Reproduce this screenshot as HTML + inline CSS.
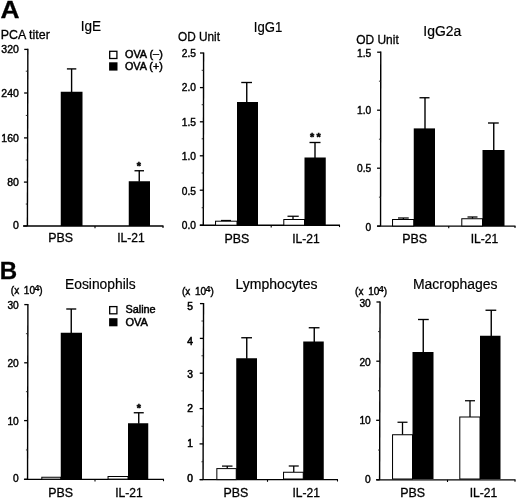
<!DOCTYPE html>
<html><head><meta charset="utf-8"><title>Figure</title>
<style>
html,body{margin:0;padding:0;background:#fff;}
body{width:520px;height:499px;overflow:hidden;}
svg{display:block;font-family:'Liberation Sans', Arial, Helvetica, sans-serif;}
</style></head><body>
<svg width="520" height="499" viewBox="0 0 520 499">
<defs><filter id="soft" x="0" y="0" width="520" height="499" filterUnits="userSpaceOnUse"><feGaussianBlur stdDeviation="0.4"/></filter></defs>
<rect x="0" y="0" width="520" height="499" fill="#fff"/>
<g filter="url(#soft)">
<text x="0.6" y="18.3" font-size="24.3" text-anchor="start" font-weight="bold" fill="#000" stroke="#000" stroke-width="0.3" textLength="19" lengthAdjust="spacingAndGlyphs">A</text>
<text x="-0.2" y="279.3" font-size="24" text-anchor="start" font-weight="bold" fill="#000" stroke="#000" stroke-width="0.3" textLength="17.4" lengthAdjust="spacingAndGlyphs">B</text>
<text x="0.8" y="39" font-size="12" text-anchor="start" font-weight="normal" fill="#000" stroke="#000" stroke-width="0.3" textLength="49" lengthAdjust="spacingAndGlyphs">PCA titer</text>
<text x="80.8" y="31.3" font-size="14" text-anchor="start" font-weight="normal" fill="#000" stroke="#000" stroke-width="0.2" textLength="20.3" lengthAdjust="spacingAndGlyphs">IgE</text>
<line x1="27.849999999999998" y1="48.8" x2="27.4" y2="226" stroke="#000" stroke-width="1.4"/>
<line x1="24.249999999999996" y1="49.4" x2="27.849999999999998" y2="49.4" stroke="#000" stroke-width="1.3"/>
<text x="18.9" y="53.449999999999996" font-size="10" text-anchor="end" font-weight="normal" fill="#000" stroke="#000" stroke-width="0.4" textLength="17.52" lengthAdjust="spacingAndGlyphs">320</text>
<line x1="24.137499999999996" y1="93" x2="27.737499999999997" y2="93" stroke="#000" stroke-width="1.3"/>
<text x="18.9" y="96.64999999999999" font-size="10" text-anchor="end" font-weight="normal" fill="#000" stroke="#000" stroke-width="0.4" textLength="17.52" lengthAdjust="spacingAndGlyphs">240</text>
<line x1="24.025" y1="137.9" x2="27.625" y2="137.9" stroke="#000" stroke-width="1.3"/>
<text x="18.9" y="141.95000000000002" font-size="10" text-anchor="end" font-weight="normal" fill="#000" stroke="#000" stroke-width="0.4" textLength="17.52" lengthAdjust="spacingAndGlyphs">160</text>
<line x1="23.912499999999998" y1="182.1" x2="27.5125" y2="182.1" stroke="#000" stroke-width="1.3"/>
<text x="18.9" y="185.65" font-size="10" text-anchor="end" font-weight="normal" fill="#000" stroke="#000" stroke-width="0.4" textLength="11.68" lengthAdjust="spacingAndGlyphs">80</text>
<line x1="23.799999999999997" y1="226" x2="27.4" y2="226" stroke="#000" stroke-width="1.3"/>
<text x="18.9" y="229.25" font-size="10" text-anchor="end" font-weight="normal" fill="#000" stroke="#000" stroke-width="0.4" textLength="5.84" lengthAdjust="spacingAndGlyphs">0</text>
<line x1="25.799999999999997" y1="71.2" x2="27.4" y2="71.2" stroke="#222" stroke-width="0.9"/>
<line x1="25.799999999999997" y1="115.45" x2="27.4" y2="115.45" stroke="#222" stroke-width="0.9"/>
<line x1="25.799999999999997" y1="160.0" x2="27.4" y2="160.0" stroke="#222" stroke-width="0.9"/>
<line x1="25.799999999999997" y1="204.05" x2="27.4" y2="204.05" stroke="#222" stroke-width="0.9"/>
<line x1="23" y1="226" x2="163.5" y2="226" stroke="#000" stroke-width="1.35"/>
<line x1="95" y1="226" x2="95" y2="228.2" stroke="#000" stroke-width="1.1"/>
<line x1="163.0" y1="226" x2="163.0" y2="227.9" stroke="#000" stroke-width="1.1"/>
<rect x="60.75" y="91.75" width="21.75" height="134.25" fill="#000"/>
<line x1="71.6" y1="68.9" x2="71.6" y2="92.25" stroke="#000" stroke-width="1.4"/>
<line x1="66.9" y1="68.9" x2="76.3" y2="68.9" stroke="#000" stroke-width="1.35"/>
<rect x="128.75" y="181.25" width="21.25" height="44.75" fill="#000"/>
<line x1="139.25" y1="170.75" x2="139.25" y2="181.75" stroke="#000" stroke-width="1.4"/>
<line x1="134.5" y1="170.75" x2="144" y2="170.75" stroke="#000" stroke-width="1.35"/>
<text x="138.9" y="169.9" font-size="10.8" text-anchor="middle" font-weight="bold" fill="#000" stroke="#000" stroke-width="0.5">*</text>
<text x="60.6" y="242" font-size="12" text-anchor="middle" font-weight="normal" fill="#000" stroke="#000" stroke-width="0.3" textLength="24.8" lengthAdjust="spacingAndGlyphs">PBS</text>
<text x="131" y="242" font-size="12" text-anchor="middle" font-weight="normal" fill="#000" stroke="#000" stroke-width="0.3" textLength="27.5" lengthAdjust="spacingAndGlyphs">IL-21</text>
<rect x="109.7" y="51.3" width="7.2" height="7.2" fill="#fff" stroke="#000" stroke-width="1.3"/>
<rect x="109.1" y="62.3" width="8.4" height="8.3" fill="#000"/>
<text x="125" y="57.8" font-size="10" text-anchor="start" font-weight="normal" fill="#000" stroke="#000" stroke-width="0.45" textLength="37.8" lengthAdjust="spacingAndGlyphs">OVA (<tspan dy="-1">–</tspan><tspan dy="1">)</tspan></text>
<text x="125" y="70.2" font-size="10" text-anchor="start" font-weight="normal" fill="#000" stroke="#000" stroke-width="0.45" textLength="37.8" lengthAdjust="spacingAndGlyphs">OVA (+)</text>
<text x="178" y="41.4" font-size="12" text-anchor="start" font-weight="normal" fill="#000" stroke="#000" stroke-width="0.3" textLength="42" lengthAdjust="spacingAndGlyphs">OD Unit</text>
<text x="253.75" y="31.75" font-size="14" text-anchor="start" font-weight="normal" fill="#000" stroke="#000" stroke-width="0.2" textLength="28.5" lengthAdjust="spacingAndGlyphs">IgG1</text>
<line x1="203.60000000000002" y1="52.4" x2="203.3" y2="225.2" stroke="#000" stroke-width="1.4"/>
<line x1="200.00000000000003" y1="53" x2="203.60000000000002" y2="53" stroke="#000" stroke-width="1.3"/>
<text x="196" y="56.65" font-size="10" text-anchor="end" font-weight="normal" fill="#000" stroke="#000" stroke-width="0.4" textLength="14.18" lengthAdjust="spacingAndGlyphs">2.5</text>
<line x1="199.94000000000003" y1="87.6" x2="203.54000000000002" y2="87.6" stroke="#000" stroke-width="1.3"/>
<text x="196" y="91.35" font-size="10" text-anchor="end" font-weight="normal" fill="#000" stroke="#000" stroke-width="0.4" textLength="14.18" lengthAdjust="spacingAndGlyphs">2.0</text>
<line x1="199.88000000000002" y1="121.8" x2="203.48000000000002" y2="121.8" stroke="#000" stroke-width="1.3"/>
<text x="196" y="125.75" font-size="10" text-anchor="end" font-weight="normal" fill="#000" stroke="#000" stroke-width="0.4" textLength="14.18" lengthAdjust="spacingAndGlyphs">1.5</text>
<line x1="199.82000000000002" y1="155.8" x2="203.42000000000002" y2="155.8" stroke="#000" stroke-width="1.3"/>
<text x="196" y="159.95000000000002" font-size="10" text-anchor="end" font-weight="normal" fill="#000" stroke="#000" stroke-width="0.4" textLength="14.18" lengthAdjust="spacingAndGlyphs">1.0</text>
<line x1="199.76000000000002" y1="190.2" x2="203.36" y2="190.2" stroke="#000" stroke-width="1.3"/>
<text x="196" y="194.75" font-size="10" text-anchor="end" font-weight="normal" fill="#000" stroke="#000" stroke-width="0.4" textLength="14.18" lengthAdjust="spacingAndGlyphs">0.5</text>
<line x1="199.70000000000002" y1="225.2" x2="203.3" y2="225.2" stroke="#000" stroke-width="1.3"/>
<text x="196" y="229.15" font-size="10" text-anchor="end" font-weight="normal" fill="#000" stroke="#000" stroke-width="0.4" textLength="14.18" lengthAdjust="spacingAndGlyphs">0.0</text>
<line x1="201.70000000000002" y1="70.3" x2="203.3" y2="70.3" stroke="#222" stroke-width="0.9"/>
<line x1="201.70000000000002" y1="104.69999999999999" x2="203.3" y2="104.69999999999999" stroke="#222" stroke-width="0.9"/>
<line x1="201.70000000000002" y1="138.8" x2="203.3" y2="138.8" stroke="#222" stroke-width="0.9"/>
<line x1="201.70000000000002" y1="173.0" x2="203.3" y2="173.0" stroke="#222" stroke-width="0.9"/>
<line x1="201.70000000000002" y1="207.7" x2="203.3" y2="207.7" stroke="#222" stroke-width="0.9"/>
<line x1="200" y1="225.2" x2="340" y2="225.2" stroke="#000" stroke-width="1.35"/>
<line x1="271.2" y1="225.2" x2="271.2" y2="227.39999999999998" stroke="#000" stroke-width="1.1"/>
<line x1="339.5" y1="225.2" x2="339.5" y2="227.1" stroke="#000" stroke-width="1.1"/>
<line x1="226.0" y1="220.5" x2="226.0" y2="221.2" stroke="#000" stroke-width="1.3"/>
<line x1="221" y1="220.5" x2="231" y2="220.5" stroke="#000" stroke-width="1.25"/>
<rect x="215.55" y="221.2" width="21.45" height="4.0" fill="#fff" stroke="#000" stroke-width="1.0"/>
<rect x="237" y="102" width="21" height="123.2" fill="#000"/>
<line x1="246.75" y1="82.5" x2="246.75" y2="102.5" stroke="#000" stroke-width="1.4"/>
<line x1="241.25" y1="82.5" x2="252" y2="82.5" stroke="#000" stroke-width="1.35"/>
<line x1="293" y1="216.25" x2="293" y2="219.5" stroke="#000" stroke-width="1.3"/>
<line x1="287.5" y1="216.25" x2="298.75" y2="216.25" stroke="#000" stroke-width="1.25"/>
<rect x="283.8" y="219.5" width="20.7" height="5.7" fill="#fff" stroke="#000" stroke-width="1.0"/>
<rect x="304.5" y="157.5" width="21.25" height="67.7" fill="#000"/>
<line x1="315" y1="142.5" x2="315" y2="158.0" stroke="#000" stroke-width="1.4"/>
<line x1="309.5" y1="142.5" x2="320.5" y2="142.5" stroke="#000" stroke-width="1.35"/>
<text x="312" y="140.7" font-size="10.8" text-anchor="middle" font-weight="bold" fill="#000" stroke="#000" stroke-width="0.5">*</text>
<text x="318.7" y="140.7" font-size="10.8" text-anchor="middle" font-weight="bold" fill="#000" stroke="#000" stroke-width="0.5">*</text>
<text x="236.9" y="242.5" font-size="12" text-anchor="middle" font-weight="normal" fill="#000" stroke="#000" stroke-width="0.3" textLength="24.8" lengthAdjust="spacingAndGlyphs">PBS</text>
<text x="305.9" y="242.5" font-size="12" text-anchor="middle" font-weight="normal" fill="#000" stroke="#000" stroke-width="0.3" textLength="27.5" lengthAdjust="spacingAndGlyphs">IL-21</text>
<text x="356.25" y="43.75" font-size="12" text-anchor="start" font-weight="normal" fill="#000" stroke="#000" stroke-width="0.3" textLength="42.5" lengthAdjust="spacingAndGlyphs">OD Unit</text>
<text x="423.25" y="35.75" font-size="14" text-anchor="start" font-weight="normal" fill="#000" stroke="#000" stroke-width="0.2" textLength="38" lengthAdjust="spacingAndGlyphs">IgG2a</text>
<line x1="380.75" y1="51.6" x2="380.55" y2="226.1" stroke="#000" stroke-width="1.4"/>
<line x1="377.15" y1="52.2" x2="380.75" y2="52.2" stroke="#000" stroke-width="1.3"/>
<text x="371.2" y="56.65" font-size="10" text-anchor="end" font-weight="normal" fill="#000" stroke="#000" stroke-width="0.4" textLength="14.18" lengthAdjust="spacingAndGlyphs">1.5</text>
<line x1="377.0833333333333" y1="110.2" x2="380.68333333333334" y2="110.2" stroke="#000" stroke-width="1.3"/>
<text x="371.2" y="114.45" font-size="10" text-anchor="end" font-weight="normal" fill="#000" stroke="#000" stroke-width="0.4" textLength="14.18" lengthAdjust="spacingAndGlyphs">1.0</text>
<line x1="377.01666666666665" y1="168.2" x2="380.6166666666667" y2="168.2" stroke="#000" stroke-width="1.3"/>
<text x="371.2" y="172.45000000000002" font-size="10" text-anchor="end" font-weight="normal" fill="#000" stroke="#000" stroke-width="0.4" textLength="14.18" lengthAdjust="spacingAndGlyphs">0.5</text>
<line x1="376.95" y1="226.1" x2="380.55" y2="226.1" stroke="#000" stroke-width="1.3"/>
<text x="371.2" y="231.05" font-size="10" text-anchor="end" font-weight="normal" fill="#000" stroke="#000" stroke-width="0.4" textLength="5.67" lengthAdjust="spacingAndGlyphs">0</text>
<line x1="378.95" y1="81.2" x2="380.55" y2="81.2" stroke="#222" stroke-width="0.9"/>
<line x1="378.95" y1="139.2" x2="380.55" y2="139.2" stroke="#222" stroke-width="0.9"/>
<line x1="378.95" y1="197.14999999999998" x2="380.55" y2="197.14999999999998" stroke="#222" stroke-width="0.9"/>
<line x1="377.2" y1="226.1" x2="515.5" y2="226.1" stroke="#000" stroke-width="1.35"/>
<line x1="448.75" y1="226.1" x2="448.75" y2="228.29999999999998" stroke="#000" stroke-width="1.1"/>
<line x1="515.0" y1="226.1" x2="515.0" y2="228.0" stroke="#000" stroke-width="1.1"/>
<line x1="403.375" y1="218" x2="403.375" y2="219.5" stroke="#000" stroke-width="1.3"/>
<line x1="398" y1="218" x2="408.75" y2="218" stroke="#000" stroke-width="1.25"/>
<rect x="392.55" y="219.5" width="21.2" height="6.5" fill="#fff" stroke="#000" stroke-width="1.0"/>
<rect x="413.75" y="128.4" width="21.25" height="97.6" fill="#000"/>
<line x1="425" y1="97.75" x2="425" y2="128.9" stroke="#000" stroke-width="1.4"/>
<line x1="419.5" y1="97.75" x2="429.5" y2="97.75" stroke="#000" stroke-width="1.35"/>
<line x1="472.5" y1="217" x2="472.5" y2="218.75" stroke="#000" stroke-width="1.3"/>
<line x1="467.5" y1="217" x2="477.5" y2="217" stroke="#000" stroke-width="1.25"/>
<rect x="461.8" y="218.75" width="20.7" height="7.25" fill="#fff" stroke="#000" stroke-width="1.0"/>
<rect x="482.5" y="150" width="22.0" height="76" fill="#000"/>
<line x1="493.75" y1="123" x2="493.75" y2="150.5" stroke="#000" stroke-width="1.4"/>
<line x1="488" y1="123" x2="498.75" y2="123" stroke="#000" stroke-width="1.35"/>
<text x="414.6" y="242.5" font-size="12" text-anchor="middle" font-weight="normal" fill="#000" stroke="#000" stroke-width="0.3" textLength="24.8" lengthAdjust="spacingAndGlyphs">PBS</text>
<text x="484.4" y="242.5" font-size="12" text-anchor="middle" font-weight="normal" fill="#000" stroke="#000" stroke-width="0.3" textLength="27.5" lengthAdjust="spacingAndGlyphs">IL-21</text>
<text x="10.8" y="294" font-size="10" fill="#000" stroke="#000" stroke-width="0.4">(x<tspan dx="4.7">10</tspan><tspan font-size="9.5" font-weight="bold" dy="-3" dx="-0.8" stroke-width="0.1">4</tspan><tspan dy="3" dx="-0.1">)</tspan></text>
<text x="65" y="288.5" font-size="14" text-anchor="start" font-weight="normal" fill="#000" stroke="#000" stroke-width="0.2" textLength="70.75" lengthAdjust="spacingAndGlyphs">Eosinophils</text>
<line x1="27.900000000000002" y1="304.0" x2="27.55" y2="479.3" stroke="#000" stroke-width="1.4"/>
<line x1="24.3" y1="304.6" x2="27.900000000000002" y2="304.6" stroke="#000" stroke-width="1.3"/>
<text x="18.75" y="309.05" font-size="10" text-anchor="end" font-weight="normal" fill="#000" stroke="#000" stroke-width="0.4" textLength="11.34" lengthAdjust="spacingAndGlyphs">30</text>
<line x1="24.183333333333334" y1="362.8" x2="27.783333333333335" y2="362.8" stroke="#000" stroke-width="1.3"/>
<text x="18.75" y="366.85" font-size="10" text-anchor="end" font-weight="normal" fill="#000" stroke="#000" stroke-width="0.4" textLength="11.34" lengthAdjust="spacingAndGlyphs">20</text>
<line x1="24.066666666666666" y1="420.6" x2="27.666666666666668" y2="420.6" stroke="#000" stroke-width="1.3"/>
<text x="18.75" y="424.55" font-size="10" text-anchor="end" font-weight="normal" fill="#000" stroke="#000" stroke-width="0.4" textLength="11.34" lengthAdjust="spacingAndGlyphs">10</text>
<line x1="23.95" y1="479.3" x2="27.55" y2="479.3" stroke="#000" stroke-width="1.3"/>
<text x="18.75" y="482.15000000000003" font-size="10" text-anchor="end" font-weight="normal" fill="#000" stroke="#000" stroke-width="0.4" textLength="5.67" lengthAdjust="spacingAndGlyphs">0</text>
<line x1="25.95" y1="333.70000000000005" x2="27.55" y2="333.70000000000005" stroke="#222" stroke-width="0.9"/>
<line x1="25.95" y1="391.70000000000005" x2="27.55" y2="391.70000000000005" stroke="#222" stroke-width="0.9"/>
<line x1="25.95" y1="449.95000000000005" x2="27.55" y2="449.95000000000005" stroke="#222" stroke-width="0.9"/>
<line x1="24.3" y1="479.3" x2="164" y2="479.3" stroke="#000" stroke-width="1.35"/>
<line x1="95" y1="479.3" x2="95" y2="481.5" stroke="#000" stroke-width="1.1"/>
<line x1="163.5" y1="479.3" x2="163.5" y2="481.2" stroke="#000" stroke-width="1.1"/>
<rect x="41.8" y="477.25" width="18.95" height="1.85" fill="#fff" stroke="#000" stroke-width="1.0"/>
<rect x="60.75" y="332.75" width="21.25" height="146.35" fill="#000"/>
<line x1="71.25" y1="309" x2="71.25" y2="333.25" stroke="#000" stroke-width="1.4"/>
<line x1="66.25" y1="309" x2="76.25" y2="309" stroke="#000" stroke-width="1.35"/>
<rect x="108.05" y="476.5" width="19.95" height="2.6" fill="#fff" stroke="#000" stroke-width="1.0"/>
<rect x="128" y="423.25" width="20.25" height="55.85" fill="#000"/>
<line x1="138.75" y1="412.75" x2="138.75" y2="423.75" stroke="#000" stroke-width="1.4"/>
<line x1="133.75" y1="412.75" x2="143.75" y2="412.75" stroke="#000" stroke-width="1.35"/>
<text x="138.75" y="411.6" font-size="10.8" text-anchor="middle" font-weight="bold" fill="#000" stroke="#000" stroke-width="0.5">*</text>
<rect x="109.7" y="306.6" width="7.2" height="7.2" fill="#fff" stroke="#000" stroke-width="1.3"/>
<rect x="109.1" y="318.2" width="8.4" height="8.1" fill="#000"/>
<text x="125.4" y="313" font-size="10" text-anchor="start" font-weight="normal" fill="#000" stroke="#000" stroke-width="0.45" textLength="30.3" lengthAdjust="spacingAndGlyphs">Saline</text>
<text x="125.4" y="325.6" font-size="10" text-anchor="start" font-weight="normal" fill="#000" stroke="#000" stroke-width="0.45" textLength="22.5" lengthAdjust="spacingAndGlyphs">OVA</text>
<text x="60.6" y="496.5" font-size="12" text-anchor="middle" font-weight="normal" fill="#000" stroke="#000" stroke-width="0.3" textLength="24.8" lengthAdjust="spacingAndGlyphs">PBS</text>
<text x="128.9" y="496.5" font-size="12" text-anchor="middle" font-weight="normal" fill="#000" stroke="#000" stroke-width="0.3" textLength="27.5" lengthAdjust="spacingAndGlyphs">IL-21</text>
<text x="182" y="295.1" font-size="10" fill="#000" stroke="#000" stroke-width="0.4">(x<tspan dx="4.7">10</tspan><tspan font-size="9.5" font-weight="bold" dy="-3" dx="-0.8" stroke-width="0.1">4</tspan><tspan dy="3" dx="-0.1">)</tspan></text>
<text x="235.5" y="289" font-size="14" text-anchor="start" font-weight="normal" fill="#000" stroke="#000" stroke-width="0.2" textLength="82" lengthAdjust="spacingAndGlyphs">Lymphocytes</text>
<line x1="203.55" y1="303.0" x2="203.05" y2="479.6" stroke="#000" stroke-width="1.4"/>
<line x1="199.95000000000002" y1="303.6" x2="203.55" y2="303.6" stroke="#000" stroke-width="1.3"/>
<text x="193" y="309.55" font-size="10" text-anchor="end" font-weight="normal" fill="#000" stroke="#000" stroke-width="0.55" textLength="5.67" lengthAdjust="spacingAndGlyphs">5</text>
<line x1="199.85000000000002" y1="338.4" x2="203.45000000000002" y2="338.4" stroke="#000" stroke-width="1.3"/>
<text x="193" y="344.55" font-size="10" text-anchor="end" font-weight="normal" fill="#000" stroke="#000" stroke-width="0.55" textLength="5.67" lengthAdjust="spacingAndGlyphs">4</text>
<line x1="199.75000000000003" y1="373.2" x2="203.35000000000002" y2="373.2" stroke="#000" stroke-width="1.3"/>
<text x="193" y="377.95" font-size="10" text-anchor="end" font-weight="normal" fill="#000" stroke="#000" stroke-width="0.55" textLength="5.67" lengthAdjust="spacingAndGlyphs">3</text>
<line x1="199.65" y1="408.6" x2="203.25" y2="408.6" stroke="#000" stroke-width="1.3"/>
<text x="193" y="412.15000000000003" font-size="10" text-anchor="end" font-weight="normal" fill="#000" stroke="#000" stroke-width="0.55" textLength="5.67" lengthAdjust="spacingAndGlyphs">2</text>
<line x1="199.55" y1="443.9" x2="203.15" y2="443.9" stroke="#000" stroke-width="1.3"/>
<text x="193" y="447.35" font-size="10" text-anchor="end" font-weight="normal" fill="#000" stroke="#000" stroke-width="0.55" textLength="5.67" lengthAdjust="spacingAndGlyphs">1</text>
<line x1="199.45000000000002" y1="479.6" x2="203.05" y2="479.6" stroke="#000" stroke-width="1.3"/>
<text x="193" y="481.65000000000003" font-size="10" text-anchor="end" font-weight="normal" fill="#000" stroke="#000" stroke-width="0.55" textLength="5.67" lengthAdjust="spacingAndGlyphs">0</text>
<line x1="201.45000000000002" y1="321.0" x2="203.05" y2="321.0" stroke="#222" stroke-width="0.9"/>
<line x1="201.45000000000002" y1="355.79999999999995" x2="203.05" y2="355.79999999999995" stroke="#222" stroke-width="0.9"/>
<line x1="201.45000000000002" y1="390.9" x2="203.05" y2="390.9" stroke="#222" stroke-width="0.9"/>
<line x1="201.45000000000002" y1="426.25" x2="203.05" y2="426.25" stroke="#222" stroke-width="0.9"/>
<line x1="201.45000000000002" y1="461.75" x2="203.05" y2="461.75" stroke="#222" stroke-width="0.9"/>
<line x1="200" y1="479.6" x2="338" y2="479.6" stroke="#000" stroke-width="1.35"/>
<line x1="267.5" y1="479.6" x2="267.5" y2="481.8" stroke="#000" stroke-width="1.1"/>
<line x1="337.5" y1="479.6" x2="337.5" y2="481.5" stroke="#000" stroke-width="1.1"/>
<line x1="227.25" y1="466.1" x2="227.25" y2="468.6" stroke="#000" stroke-width="1.3"/>
<line x1="222" y1="466.1" x2="232.5" y2="466.1" stroke="#000" stroke-width="1.25"/>
<rect x="216.85000000000002" y="468.6" width="19.4" height="11.0" fill="#fff" stroke="#000" stroke-width="1.0"/>
<rect x="236.25" y="358.25" width="20.75" height="120.75" fill="#000"/>
<line x1="246.75" y1="337.75" x2="246.75" y2="358.75" stroke="#000" stroke-width="1.4"/>
<line x1="241.25" y1="337.75" x2="252" y2="337.75" stroke="#000" stroke-width="1.35"/>
<line x1="293.75" y1="466" x2="293.75" y2="472.25" stroke="#000" stroke-width="1.3"/>
<line x1="288.75" y1="466" x2="298.75" y2="466" stroke="#000" stroke-width="1.25"/>
<rect x="283.55" y="472.25" width="19.7" height="6.75" fill="#fff" stroke="#000" stroke-width="1.0"/>
<rect x="303.25" y="341.5" width="20.5" height="137.5" fill="#000"/>
<line x1="314.25" y1="327.75" x2="314.25" y2="342.0" stroke="#000" stroke-width="1.4"/>
<line x1="308.75" y1="327.75" x2="319.5" y2="327.75" stroke="#000" stroke-width="1.35"/>
<text x="235.9" y="496.5" font-size="12" text-anchor="middle" font-weight="normal" fill="#000" stroke="#000" stroke-width="0.3" textLength="24.8" lengthAdjust="spacingAndGlyphs">PBS</text>
<text x="306.25" y="496.5" font-size="12" text-anchor="middle" font-weight="normal" fill="#000" stroke="#000" stroke-width="0.3" textLength="27.5" lengthAdjust="spacingAndGlyphs">IL-21</text>
<text x="355.1" y="295.1" font-size="10" fill="#000" stroke="#000" stroke-width="0.4">(x<tspan dx="4.7">10</tspan><tspan font-size="9.5" font-weight="bold" dy="-3" dx="-0.8" stroke-width="0.1">4</tspan><tspan dy="3" dx="-0.1">)</tspan></text>
<text x="413" y="289" font-size="14" text-anchor="start" font-weight="normal" fill="#000" stroke="#000" stroke-width="0.2" textLength="84.5" lengthAdjust="spacingAndGlyphs">Macrophages</text>
<line x1="380.05" y1="301.4" x2="379.6" y2="479.8" stroke="#000" stroke-width="1.4"/>
<line x1="376.45" y1="302" x2="380.05" y2="302" stroke="#000" stroke-width="1.3"/>
<text x="370.8" y="307.05" font-size="10" text-anchor="end" font-weight="normal" fill="#000" stroke="#000" stroke-width="0.4" textLength="11.34" lengthAdjust="spacingAndGlyphs">30</text>
<line x1="376.3" y1="361.2" x2="379.90000000000003" y2="361.2" stroke="#000" stroke-width="1.3"/>
<text x="370.8" y="365.75" font-size="10" text-anchor="end" font-weight="normal" fill="#000" stroke="#000" stroke-width="0.4" textLength="11.34" lengthAdjust="spacingAndGlyphs">20</text>
<line x1="376.15" y1="420.3" x2="379.75" y2="420.3" stroke="#000" stroke-width="1.3"/>
<text x="370.8" y="424.15000000000003" font-size="10" text-anchor="end" font-weight="normal" fill="#000" stroke="#000" stroke-width="0.4" textLength="11.34" lengthAdjust="spacingAndGlyphs">10</text>
<line x1="376.0" y1="479.8" x2="379.6" y2="479.8" stroke="#000" stroke-width="1.3"/>
<text x="370.8" y="482.85" font-size="10" text-anchor="end" font-weight="normal" fill="#000" stroke="#000" stroke-width="0.4" textLength="5.67" lengthAdjust="spacingAndGlyphs">0</text>
<line x1="378.0" y1="331.6" x2="379.6" y2="331.6" stroke="#222" stroke-width="0.9"/>
<line x1="378.0" y1="390.75" x2="379.6" y2="390.75" stroke="#222" stroke-width="0.9"/>
<line x1="378.0" y1="450.05" x2="379.6" y2="450.05" stroke="#222" stroke-width="0.9"/>
<line x1="376.5" y1="479.8" x2="515.5" y2="479.8" stroke="#000" stroke-width="1.35"/>
<line x1="447.5" y1="479.8" x2="447.5" y2="482.0" stroke="#000" stroke-width="1.1"/>
<line x1="515.0" y1="479.8" x2="515.0" y2="481.7" stroke="#000" stroke-width="1.1"/>
<line x1="402.5" y1="422.25" x2="402.5" y2="434.75" stroke="#000" stroke-width="1.3"/>
<line x1="397.5" y1="422.25" x2="407.5" y2="422.25" stroke="#000" stroke-width="1.25"/>
<rect x="392.55" y="434.75" width="19.95" height="44.25" fill="#fff" stroke="#000" stroke-width="1.0"/>
<rect x="412.5" y="352" width="21.0" height="127" fill="#000"/>
<line x1="423.25" y1="319.5" x2="423.25" y2="352.5" stroke="#000" stroke-width="1.4"/>
<line x1="418" y1="319.5" x2="428.75" y2="319.5" stroke="#000" stroke-width="1.35"/>
<line x1="470" y1="400.75" x2="470" y2="417" stroke="#000" stroke-width="1.3"/>
<line x1="465" y1="400.75" x2="475" y2="400.75" stroke="#000" stroke-width="1.25"/>
<rect x="459.8" y="417" width="20.2" height="62" fill="#fff" stroke="#000" stroke-width="1.0"/>
<rect x="480" y="335.75" width="20.5" height="143.25" fill="#000"/>
<line x1="491.25" y1="310.25" x2="491.25" y2="336.25" stroke="#000" stroke-width="1.4"/>
<line x1="485.5" y1="310.25" x2="496.25" y2="310.25" stroke="#000" stroke-width="1.35"/>
<text x="412.75" y="496.5" font-size="12" text-anchor="middle" font-weight="normal" fill="#000" stroke="#000" stroke-width="0.3" textLength="24.8" lengthAdjust="spacingAndGlyphs">PBS</text>
<text x="483.4" y="496.5" font-size="12" text-anchor="middle" font-weight="normal" fill="#000" stroke="#000" stroke-width="0.3" textLength="27.5" lengthAdjust="spacingAndGlyphs">IL-21</text>
</g>
</svg>
</body></html>
